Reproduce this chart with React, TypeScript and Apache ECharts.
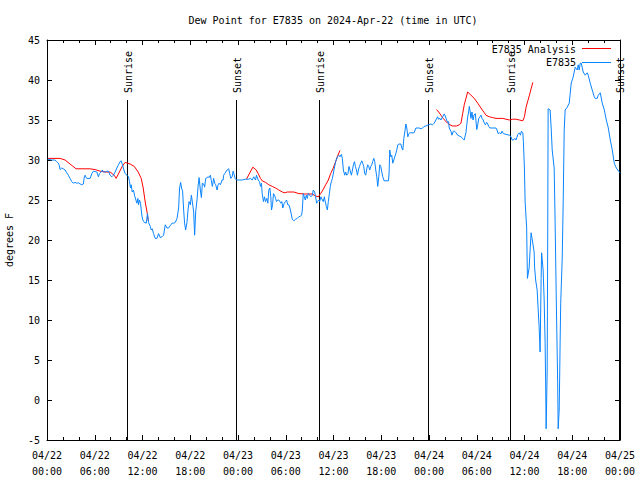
import React, { useEffect, useRef } from "react";
import * as echarts from "echarts";

// ---- data (time in hours since 04/22 00:00 UTC, dew point °F) ----
const xTickLabels = [
  "04/22\n00:00", "04/22\n06:00", "04/22\n12:00", "04/22\n18:00",
  "04/23\n00:00", "04/23\n06:00", "04/23\n12:00", "04/23\n18:00",
  "04/24\n00:00", "04/24\n06:00", "04/24\n12:00", "04/24\n18:00",
  "04/25\n00:00",
];

const sunTimes = [10.05, 23.74, 34.17, 47.86, 58.17, 71.86];
const sunLabels = ["Sunrise", "Sunset", "Sunrise", "Sunset", "Sunrise", "Sunset"];

const analysisSeg1 = [
  [0.13, 30.2], [0.63, 30.2], [1.64, 30.2], [2.27, 30.0], [2.64, 29.7], [3.15, 29.3],
  [3.65, 28.9], [5.42, 28.9], [6.05, 28.8], [6.68, 28.6], [7.3, 28.5], [7.93, 28.5],
  [8.44, 28.1], [8.69, 27.7], [9.45, 29.2], [9.82, 29.7], [10.45, 29.5], [10.96, 29.2],
  [11.46, 28.5], [11.84, 27.7], [12.09, 26.5], [12.34, 24.75], [12.59, 23.4], [12.72, 22.4],
];
const analysisSeg2 = [
  [25.06, 27.6], [25.86, 29.1], [26.29, 28.75], [26.54, 28.3], [26.83, 27.7], [27.04, 27.4],
  [27.46, 27.2], [27.87, 26.9], [28.3, 26.7], [28.72, 26.5], [29.13, 26.25], [29.56, 26.0],
  [29.89, 25.9], [30.19, 26.0], [31.02, 26.0], [31.65, 25.8], [32.49, 25.75], [33.34, 25.75],
  [33.75, 25.5], [34.09, 25.4], [34.38, 25.8], [34.67, 26.25], [35.01, 26.9], [35.35, 27.5],
  [35.64, 28.3], [35.93, 28.9], [36.27, 29.8], [36.52, 30.5], [36.81, 31.2],
];
const analysisSeg3 = [
  [48.95, 36.3], [49.21, 36.0], [49.5, 35.6], [49.79, 35.2], [50.04, 34.9], [50.34, 34.6],
  [50.63, 34.4], [50.97, 34.25], [51.47, 34.25], [51.8, 34.4], [52.02, 34.6], [52.23, 35.8],
  [52.43, 36.9], [52.64, 37.7], [52.86, 38.5], [53.27, 38.1], [53.69, 37.7], [54.12, 37.1],
  [54.53, 36.5], [54.95, 35.9], [55.16, 35.6], [55.58, 35.4], [56.01, 35.3], [56.42, 35.2],
  [57.27, 35.2], [58.1, 35.0], [58.53, 35.1], [58.94, 35.1], [59.36, 35.0], [59.79, 34.9],
  [59.99, 35.4], [60.2, 36.6], [60.42, 37.4], [60.62, 38.1], [60.83, 38.9], [61.05, 39.7],
];

const stationDay1 = [
  [0.09, 30.1], [0.59, 30.0], [1.01, 30.0], [1.22, 29.8], [1.42, 29.6], [1.55, 29.3],
  [1.64, 28.8], [1.85, 29.0], [2.05, 28.9], [2.27, 28.75], [2.48, 28.4], [2.68, 28.1],
  [2.9, 27.7], [3.11, 27.3], [3.31, 27.1], [3.53, 27.2], [3.74, 27.1], [3.94, 27.15],
  [4.16, 27.0], [4.37, 26.9], [4.57, 27.0], [4.66, 27.7], [4.79, 28.1], [4.87, 27.9],
  [5.0, 27.7], [5.42, 27.7], [5.63, 28.3], [5.83, 28.6], [6.26, 28.5], [6.46, 27.9],
  [6.59, 28.3], [6.8, 28.5], [6.96, 28.75], [7.09, 28.5], [7.3, 28.5], [7.52, 28.6],
  [7.72, 28.6], [7.93, 28.1], [8.15, 27.9], [8.35, 28.1], [8.56, 28.5], [8.78, 29.0],
  [8.98, 29.4], [9.19, 29.8], [9.32, 29.9], [9.48, 29.4], [9.66, 28.75], [9.82, 28.3],
  [10.04, 28.1], [10.24, 27.9], [10.37, 27.3], [10.49, 26.5], [10.58, 26.9], [10.71, 26.0],
  [10.87, 26.25], [10.99, 25.6], [11.17, 25.0], [11.3, 24.6], [11.42, 25.2], [11.5, 24.4],
  [11.62, 25.0], [11.75, 24.6], [11.93, 23.0], [12.05, 22.5], [12.22, 22.2], [12.47, 22.1],
  [12.63, 23.3], [12.76, 22.2], [12.97, 21.7], [13.1, 21.25], [13.22, 21.4], [13.39, 20.8],
  [13.6, 20.2], [13.82, 20.2], [14.02, 20.8], [14.23, 20.3], [14.45, 20.4], [14.65, 20.6],
  [14.86, 21.9], [15.08, 21.5], [15.28, 21.5], [15.49, 21.8], [15.71, 22.1], [15.91, 22.1],
  [16.12, 22.2], [16.34, 22.7], [16.54, 24.0], [16.66, 26.5], [16.79, 27.2], [16.91, 26.5],
  [17.04, 26.1], [17.17, 23.75], [17.29, 22.1], [17.42, 21.25], [17.59, 22.2], [17.72, 23.75],
  [17.85, 24.8], [18.01, 24.4], [18.14, 25.6], [18.26, 24.8], [18.43, 23.5], [18.55, 20.6],
  [18.68, 23.5], [18.85, 25.0], [18.98, 26.7], [19.11, 27.8], [19.27, 26.25], [19.4, 25.3],
  [19.52, 27.1], [19.69, 27.0], [19.81, 26.6], [19.94, 27.7], [20.11, 27.8], [20.24, 27.9],
  [20.37, 27.8], [20.53, 28.1], [20.65, 27.4], [20.78, 26.7], [20.94, 27.7], [21.07, 27.1],
  [21.2, 26.9], [21.37, 26.25], [21.5, 26.9], [21.62, 27.1], [21.79, 26.9], [22.0, 27.5],
  [22.13, 27.5], [22.2, 28.1], [22.33, 28.3], [22.46, 28.5], [22.63, 28.75], [22.83, 28.9],
  [22.96, 28.3], [23.09, 27.7], [23.26, 27.9], [23.39, 28.6], [23.51, 28.2], [23.64, 27.7],
  [23.8, 27.5],
];
const stationDay2 = [
  [24.09, 27.5], [24.52, 27.5], [24.94, 27.6], [25.35, 27.6], [25.57, 27.7], [25.78, 27.5],
  [25.98, 27.9], [26.2, 27.5], [26.32, 28.1], [26.54, 27.5], [26.7, 27.3], [26.83, 26.7],
  [26.95, 27.1], [27.04, 25.8], [27.2, 24.8], [27.33, 25.4], [27.46, 24.8], [27.62, 25.2],
  [27.75, 24.6], [27.87, 26.25], [28.0, 26.5], [28.12, 25.4], [28.21, 23.75], [28.34, 24.4],
  [28.46, 25.8], [28.59, 25.6], [28.72, 25.2], [28.84, 24.8], [28.97, 25.0], [29.13, 25.0],
  [29.26, 24.8], [29.38, 24.6], [29.51, 24.8], [29.63, 24.0], [29.81, 24.6], [29.97, 24.8],
  [30.1, 25.0], [30.26, 24.4], [30.39, 24.4], [30.52, 24.0], [30.64, 23.5], [30.82, 22.6],
  [31.02, 22.4], [31.23, 22.6], [31.45, 22.7], [31.65, 22.9], [31.86, 23.0], [31.99, 23.1],
  [32.08, 23.75], [32.2, 25.8], [32.33, 25.4], [32.46, 25.0], [32.58, 25.6], [32.71, 25.2],
  [32.83, 25.8], [33.0, 25.6], [33.16, 25.4], [33.34, 25.6], [33.46, 26.25], [33.63, 26.0],
  [33.75, 25.4], [33.88, 24.6], [34.0, 24.8], [34.13, 25.0], [34.26, 24.8], [34.42, 25.4],
  [34.6, 25.0], [34.72, 24.8], [34.85, 25.4], [34.92, 25.0], [35.1, 24.2], [35.23, 23.75],
  [35.35, 24.8], [35.48, 25.8], [35.6, 26.7], [35.73, 27.3], [35.86, 27.7], [36.06, 28.75],
  [36.27, 29.8], [36.49, 30.4], [36.69, 30.6], [36.81, 30.4], [36.99, 30.7], [37.11, 30.2],
  [37.24, 28.75], [37.41, 28.1], [37.53, 28.5], [37.66, 28.1], [37.82, 28.3], [37.95, 29.2],
  [38.07, 28.75], [38.25, 28.1], [38.38, 28.75], [38.5, 29.4], [38.63, 29.8], [38.75, 29.2],
  [38.88, 28.75], [39.01, 28.1], [39.13, 28.75], [39.26, 29.2], [39.42, 29.6], [39.55, 29.9],
  [39.67, 29.6], [39.8, 29.2], [39.92, 28.3], [40.05, 28.1], [40.18, 28.9], [40.3, 29.4],
  [40.43, 29.2], [40.55, 28.75], [40.68, 29.2], [40.81, 29.4], [40.93, 29.8], [41.06, 30.2],
  [41.18, 29.8], [41.31, 28.75], [41.44, 27.9], [41.56, 26.7], [41.69, 27.9], [41.81, 29.4],
  [41.94, 29.2], [42.07, 28.5], [42.19, 27.9], [42.36, 27.4], [42.91, 27.4], [42.99, 28.5],
  [43.07, 31.25], [43.2, 30.4], [43.32, 30.6], [43.45, 29.6], [43.58, 30.0], [43.7, 30.4],
  [43.83, 30.8], [43.95, 31.25], [44.08, 31.9], [44.24, 32.0], [44.46, 32.0], [44.58, 31.5],
  [44.71, 31.25], [44.84, 32.7], [44.96, 33.5], [45.09, 34.5], [45.21, 34.0], [45.34, 32.9],
  [45.47, 33.3], [45.59, 33.4], [46.13, 33.4], [46.35, 34.0], [46.76, 34.0], [46.98, 33.9],
  [47.19, 34.0], [47.39, 34.2], [47.61, 34.25], [47.95, 34.4],
];
const stationDay3 = [
  [48.24, 34.5], [48.45, 34.4], [48.65, 34.6], [48.87, 35.0], [49.08, 35.4], [49.21, 35.1],
  [49.37, 35.2], [49.5, 35.0], [49.71, 35.4], [49.91, 35.75], [50.04, 35.5], [50.21, 35.0],
  [50.34, 34.7], [50.47, 34.8], [50.54, 34.0], [50.67, 33.75], [50.76, 33.6], [50.88, 33.1],
  [51.05, 33.6], [51.22, 33.6], [51.39, 33.4], [51.6, 33.1], [51.8, 33.0], [52.02, 32.9],
  [52.23, 32.7], [52.43, 32.5], [52.56, 33.1], [52.64, 33.4], [52.77, 34.6], [52.86, 35.4],
  [52.98, 36.0], [53.06, 36.7], [53.15, 36.2], [53.27, 35.2], [53.4, 36.0], [53.53, 35.0],
  [53.65, 35.6], [53.82, 35.8], [54.0, 33.8], [54.12, 34.4], [54.25, 35.2], [54.41, 35.4],
  [54.53, 35.6], [54.66, 35.2], [54.82, 35.0], [54.95, 34.6], [55.08, 34.4], [55.25, 34.7],
  [55.38, 34.5], [55.5, 34.2], [55.67, 34.0], [56.42, 34.0], [56.55, 33.75], [56.68, 33.3],
  [56.84, 33.4], [57.05, 33.3], [57.18, 33.6], [57.34, 33.3], [57.68, 33.2], [58.1, 33.1],
  [58.31, 32.9], [58.44, 32.5], [58.6, 32.5], [58.78, 32.7], [58.94, 32.5], [59.16, 33.2],
  [59.36, 33.4], [59.49, 33.1], [59.61, 33.6], [59.79, 33.4], [59.86, 32.3], [59.99, 29.0],
  [60.08, 24.75], [60.27, 21.6], [60.33, 17.5], [60.37, 15.2], [60.58, 16.5], [60.83, 20.9],
  [61.02, 19.75], [61.21, 18.5], [61.27, 16.6], [61.4, 15.0], [61.59, 13.75], [61.71, 11.5],
  [61.84, 9.1], [61.96, 6.0], [62.09, 15.2], [62.15, 18.4], [62.34, 16.25], [62.47, 12.5],
  [62.59, 7.1], [62.66, 2.0], [62.72, -3.6], [62.85, 3.75], [62.91, 18.5], [62.97, 36.4],
  [63.22, 36.25], [63.35, 34.0], [63.48, 31.25], [63.73, 29.0], [63.85, 22.1], [63.98, 13.4],
  [64.17, 2.1], [64.23, -3.6], [64.36, -1.25], [64.42, 3.0], [64.48, 7.5], [64.55, 12.1],
  [64.74, 17.75], [64.86, 24.6], [64.99, 33.75], [65.11, 36.25], [65.37, 36.6], [65.62, 37.1],
  [65.87, 39.6], [66.12, 40.4], [66.37, 41.6], [66.62, 41.25], [66.75, 41.9], [66.88, 41.25],
  [67.0, 42.1], [67.13, 42.1], [67.38, 41.0], [67.63, 40.6], [67.88, 40.9], [68.01, 40.6],
  [68.26, 39.6], [68.51, 38.75], [68.77, 37.9], [68.89, 37.7], [69.14, 37.7], [69.27, 38.1],
  [69.52, 38.4], [69.77, 37.1], [70.03, 36.25], [70.28, 35.0], [70.53, 34.0], [70.78, 32.5],
  [71.03, 31.25], [71.28, 29.6], [71.54, 29.0], [71.91, 28.5], [72.0, 28.4],
];

const SUN_LINE_TOP = 37.5;
const FONT = "DejaVu Sans Mono";
const RED = "#ff0000";
const BLUE = "#0a84ff";

export default function App() {
  const ref = useRef<HTMLDivElement>(null);
  useEffect(() => {
    document.body.style.margin = "0";
    const chart = echarts.init(ref.current!, null, { renderer: "svg" });
    const analysis = [...analysisSeg1, [12.9, null], ...analysisSeg2, [37.0, null], ...analysisSeg3];
    const station = [...stationDay1, ...stationDay2, ...stationDay3];
    const axisCommonX = {
      type: "value" as const,
      min: 0,
      max: 72,
      interval: 6,
      axisLine: { show: true, onZero: false, lineStyle: { color: "#000", width: 1 } },
      axisTick: { show: true, inside: true, length: 5, lineStyle: { color: "#000" } },
      minorTick: { show: true, splitNumber: 3, length: 3, lineStyle: { color: "#000" } },
      splitLine: { show: false },
    };
    const axisCommonY = {
      type: "value" as const,
      min: -5,
      max: 45,
      interval: 5,
      axisLine: { show: true, onZero: false, lineStyle: { color: "#000", width: 1 } },
      axisTick: { show: true, inside: true, length: 5, lineStyle: { color: "#000" } },
      splitLine: { show: false },
    };
    chart.setOption({
      animation: false,
      backgroundColor: "#fff",
      grid: {
        left: 47, right: 20, top: 40, bottom: 40, show: false,
        containLabel: false, outerBoundsMode: "none",
      },
      xAxis: [
        {
          ...axisCommonX,
          position: "bottom",
          axisLabel: {
            show: true,
            margin: 7,
            fontFamily: FONT,
            fontSize: 10,
            color: "#000",
            lineHeight: 16,
            showMinLabel: true,
            showMaxLabel: true,
            formatter: (v: number) => xTickLabels[Math.round(v / 6)] ?? "",
          },
        },
        { ...axisCommonX, position: "top", axisLabel: { show: false } },
      ],
      yAxis: [
        {
          ...axisCommonY,
          position: "left",
          name: "degrees F",
          nameLocation: "middle",
          nameGap: 33,
          nameRotate: 90,
          nameTextStyle: { fontFamily: FONT, fontSize: 10, color: "#000" },
          axisLabel: { margin: 7, fontFamily: FONT, fontSize: 10, color: "#000" },
        },
        { ...axisCommonY, position: "right", axisLabel: { show: false } },
      ],
      graphic: [
        {
          type: "text",
          x: 333,
          y: 20,
          style: {
            text: "Dew Point for E7835 on 2024-Apr-22 (time in UTC)",
            font: `10px ${FONT}`,
            fill: "#000",
            align: "center",
            verticalAlign: "middle",
          },
        },
        {
          type: "text",
          x: 576,
          y: 49,
          z: 10,
          style: { text: "E7835 Analysis", font: `10px ${FONT}`, fill: "#000", align: "right", verticalAlign: "middle" },
        },
        {
          type: "line",
          z: 10,
          shape: { x1: 582, y1: 48.5, x2: 611, y2: 48.5 },
          style: { stroke: RED, lineWidth: 1 },
        },
        {
          type: "text",
          x: 576,
          y: 62,
          z: 10,
          style: { text: "E7835", font: `10px ${FONT}`, fill: "#000", align: "right", verticalAlign: "middle" },
        },
        {
          type: "line",
          z: 10,
          shape: { x1: 582, y1: 62.5, x2: 611, y2: 62.5 },
          style: { stroke: BLUE, lineWidth: 1 },
        },
      ],
      series: [
        {
          type: "custom",
          name: "sun",
          xAxisIndex: 0,
          yAxisIndex: 0,
          clip: false,
          data: sunTimes.map((t) => [t, SUN_LINE_TOP]),
          renderItem: (params: any, api: any) => {
            const t = api.value(0);
            const p0 = api.coord([t, -5]);
            const p1 = api.coord([t, api.value(1)]);
            const cx = Math.round(p0[0]) + 0.5;
            return {
              type: "group",
              children: [
                {
                  type: "line",
                  shape: { x1: cx, y1: p0[1], x2: cx, y2: Math.round(p1[1]) },
                  style: { stroke: "#000", lineWidth: 1 },
                },
                {
                  type: "text",
                  x: cx + 1,
                  y: p1[1] - 7,
                  rotation: Math.PI / 2,
                  style: {
                    text: sunLabels[params.dataIndex],
                    font: `10px ${FONT}`,
                    fill: "#000",
                    align: "left",
                    verticalAlign: "middle",
                  },
                },
              ],
            };
          },
        },
        {
          type: "line",
          name: "E7835 Analysis",
          data: analysis,
          showSymbol: false,
          connectNulls: false,
          lineStyle: { color: RED, width: 1 },
          itemStyle: { color: RED },
        },
        {
          type: "line",
          name: "E7835",
          data: station,
          showSymbol: false,
          lineStyle: { color: BLUE, width: 1 },
          itemStyle: { color: BLUE },
        },
      ],
    });
    return () => chart.dispose();
  }, []);
  return <div ref={ref} style={{ width: 640, height: 480 }} />;
}
